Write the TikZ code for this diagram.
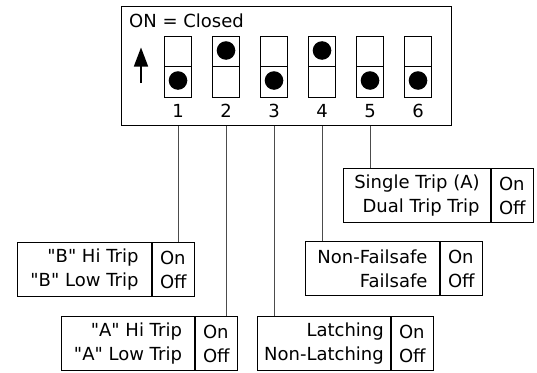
\documentclass[tikz,border=0pt]{standalone}
\usepackage{fontspec}
\setmainfont{DejaVu Sans}
\usetikzlibrary{arrows.meta}
\newcommand{\optSize}[0]{\fontsize{18}{24}\selectfont}
\newcommand{\onoff}[0]{On\\Off}
\newcommand{\qname}[1]{\textquotedbl#1\textquotedbl}

\begin{document}
\begin{tikzpicture}[x=1pt, y=-1pt, font=\optSize]
  \tikzset{frame/.style={draw, line width=0.9pt},
    wire/.style={draw=black!70, line width=1pt},
    optlabel/.style={frame, anchor=north west, align=right, minimum height=54pt, inner sep=0pt},
    optstate/.style={frame, anchor=north west, align=left, minimum height=54pt, minimum width=42pt, inner sep=0pt},
    switchbox/.style={frame, minimum width=27pt, minimum height=61pt, inner sep=0pt}}
  \useasboundingbox (0,0) rectangle (537,372);
  % switch panel
  \node[frame, anchor=north west, minimum width=330pt, minimum height=119pt] (panel) at (121,6) {};
  \node[anchor=base west, inner sep=0pt] (title) at (129,27) {ON = Closed};
  \coordinate (arrowtail) at (141,83);
  \coordinate (arrowtip) at (141,47.5);
  \draw[line width=1.6pt, -{Triangle[width=14pt,length=19pt]}] (arrowtail) -- (arrowtip);
  \foreach \i/\dy [evaluate=\i as \x using 130+48*\i] in {1/80.5, 2/50.5, 3/80.5, 4/50.5, 5/80.5, 6/80.5} {
    \node[switchbox] (sw\i) at (\x,66.5) {};
    \draw[line width=0.9pt] (sw\i.west) -- (sw\i.east);
    \fill (\x,\dy) circle (9.3pt);
    \node[anchor=base, inner sep=0pt] (num\i) at (\x,117) {\i};
  }
  % option boxes
  \node[optlabel, minimum width=134pt] (tripB) at (17,242) {\qname{B} Hi Trip\\\qname{B} Low Trip};
  \node[optstate] (tripBs) at (tripB.north east) {\onoff};
  \node[optlabel, minimum width=133pt] (tripA) at (61,316) {\qname{A} Hi Trip\\\qname{A} Low Trip};
  \node[optstate] (tripAs) at (tripA.north east) {\onoff};
  \node[optlabel, minimum width=133pt] (latch) at (257,316) {Latching\\Non-Latching};
  \node[optstate] (latchs) at (latch.north east) {\onoff};
  \node[optlabel, minimum width=134pt] (fail) at (305,241) {Non-Failsafe\\Failsafe};
  \node[optstate] (fails) at (fail.north east) {\onoff};
  \node[optlabel, minimum width=147pt] (trip) at (343,168) {Single Trip (A)\\Dual Trip Trip};
  \node[optstate] (trips) at (trip.north east) {\onoff};
  % wires
  \draw[wire] (panel.south -| sw1) -- (tripBs.north -| sw1);
  \draw[wire] (panel.south -| sw2) -- (tripAs.north -| sw2);
  \draw[wire] (panel.south -| sw3) -- (latch.north -| sw3);
  \draw[wire] (panel.south -| sw4) -- (fail.north -| sw4);
  \draw[wire] (panel.south -| sw5) -- (trip.north -| sw5);
\end{tikzpicture}
\end{document}
